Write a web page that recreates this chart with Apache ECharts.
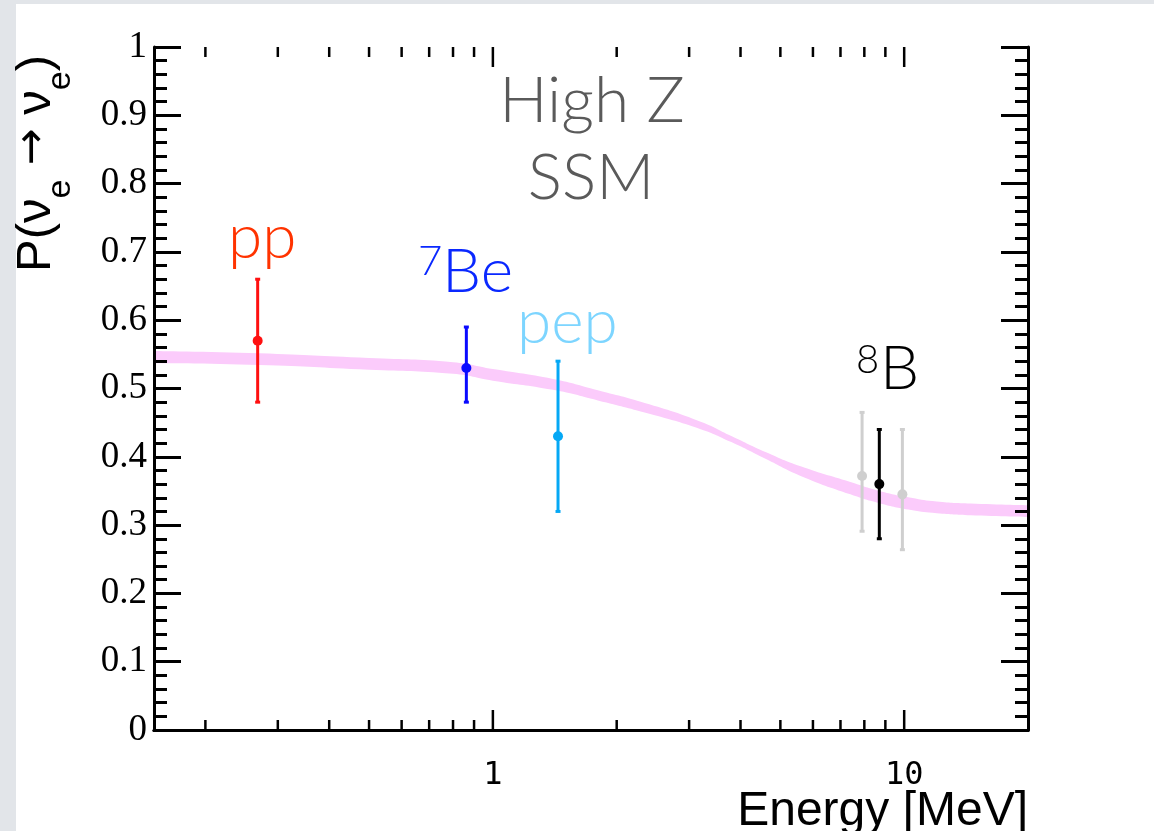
<!DOCTYPE html>
<html><head><meta charset="utf-8">
<script src="https://cdn.jsdelivr.net/npm/echarts@6/dist/echarts.min.js"></script>
<style>html,body{margin:0;padding:0;background:#e2e5e9;}#c{width:1154px;height:831px;}</style>
</head><body><div id="c"></div>
<script>
// ---- data ----
const bandEnergy = [0.15, 0.27, 0.5, 0.8, 1.0, 1.4, 1.8, 2.4, 3.2, 3.8, 4.6, 5.6, 7.4, 8.7, 10.4, 12, 14.5, 20];
const bandLower  = [0.537, 0.5345, 0.5275, 0.5215, 0.5115, 0.498, 0.4825, 0.463, 0.4405, 0.4215, 0.397, 0.372, 0.345, 0.332, 0.322, 0.3175, 0.3145, 0.312];
const bandUpper  = [0.555, 0.5515, 0.5445, 0.5385, 0.5285, 0.514, 0.4975, 0.477, 0.4515, 0.4305, 0.407, 0.386, 0.363, 0.350, 0.340, 0.3345, 0.3315, 0.329];

const pointNames  = ['pp', '7Be', 'pep', '8B (alt 1)', '8B (alt 2)', '8B'];
const pointEnergy = [0.268, 0.862, 1.44, 7.9, 9.9, 8.7];
const pointValue  = [0.57, 0.53, 0.43, 0.372, 0.345, 0.36];
const pointLow    = [0.48, 0.48, 0.32, 0.291, 0.264, 0.28];
const pointHigh   = [0.66, 0.59, 0.54, 0.465, 0.44, 0.44];
const pointColors = ['#ff1010', '#0a0aff', '#05a8f5', '#cfcfcf', '#cfcfcf', '#000000'];

const xMajorTicks = [1, 10];
const xTickLabels = ['1', '10'];
const xMinorTicks = [0.2, 0.3, 0.4, 0.5, 0.6, 0.7, 0.8, 0.9, 2, 3, 4, 5, 6, 7, 8, 9];
const xRange = [0.15, 20];
const yRange = [0, 1];

// ---- chart ----
const chart = echarts.init(document.getElementById('c'), null, {renderer: 'canvas'});

function tickSeries(values, len) {
  return {
    type: 'custom', silent: true, z: 5, clip: false,
    data: values.map(v => [v, yRange[0]]),
    renderItem: (params, api) => {
      const b = api.coord([api.value(0), yRange[0]]);
      const t = api.coord([api.value(0), yRange[1]]);
      return {type: 'group', children: [
        {type: 'line', shape: {x1: b[0], y1: b[1], x2: b[0], y2: b[1] - len}, style: {stroke: '#000', lineWidth: 2.5}},
        {type: 'line', shape: {x1: t[0], y1: t[1], x2: t[0], y2: t[1] + len}, style: {stroke: '#000', lineWidth: 2.5}}
      ]};
    }
  };
}

const yAxisCommon = {
  type: 'value', min: yRange[0], max: yRange[1], interval: 0.1, z: 5,
  axisLine: {show: true, lineStyle: {color: '#000', width: 3}},
  axisTick: {show: true, inside: true, length: 27, lineStyle: {color: '#000', width: 3}},
  minorTick: {show: true, splitNumber: 5, length: 13, lineStyle: {color: '#000', width: 3}},
  splitLine: {show: false}
};

const txt = (x, y, text, size, fill, align, extra) => ({
  type: 'text', x, y, z: 10, silent: true,
  style: Object.assign({text, fontFamily: 'Lato', fontWeight: 300, fontSize: size, fill,
    align, verticalAlign: 'middle', textAlign: align, textVerticalAlign: 'middle'}, extra || {})
});

const option = {
  backgroundColor: '#e2e5e9',
  animation: false,
  grid: {left: 154, right: 126, top: 47, bottom: 101, containLabel: false, outerBoundsMode: 'none'},
  xAxis: [
    {type: 'log', logBase: 10, min: xRange[0], max: xRange[1], position: 'bottom', z: 5,
     axisLine: {show: true, lineStyle: {color: '#000', width: 3}},
     axisTick: {show: false}, splitLine: {show: false},
     axisLabel: {show: true, showMinLabel: false, showMaxLabel: false, margin: 30,
       fontFamily: 'DejaVu Sans Mono', fontSize: 32, color: '#000',
       formatter: v => { const i = xMajorTicks.findIndex(m => Math.abs(v - m) < 1e-6 * m); return i >= 0 ? xTickLabels[i] : ''; }}},
    {type: 'log', logBase: 10, min: xRange[0], max: xRange[1], position: 'top', z: 5,
     axisLine: {show: true, lineStyle: {color: '#000', width: 3}},
     axisTick: {show: false}, axisLabel: {show: false}, splitLine: {show: false}}
  ],
  yAxis: [
    Object.assign({}, yAxisCommon, {position: 'left',
      axisLabel: {show: true, margin: 7, fontFamily: 'Liberation Serif', fontSize: 37, color: '#000'}}),
    Object.assign({}, yAxisCommon, {position: 'right', axisLabel: {show: false}})
  ],
  graphic: [
    {type: 'rect', z: -100, silent: true, shape: {x: 16, y: 4, width: 1138, height: 827}, style: {fill: '#ffffff'}},
    {type: 'text', x: 12, y: 272, rotation: Math.PI / 2, z: 10, silent: true,
     style: {
       text: '{m|P(ν}{s|e}{a| → }{m|ν}{s|e}{m|)}',
       align: 'left', verticalAlign: 'top', textAlign: 'left', textVerticalAlign: 'top',
       fill: '#000',
       rich: {
         m: {fontFamily: 'Liberation Sans', fontSize: 49, lineHeight: 56, verticalAlign: 'top', fill: '#000'},
         a: {fontFamily: 'DejaVu Sans', fontSize: 44, lineHeight: 56, verticalAlign: 'top', fill: '#000'},
         s: {fontFamily: 'Liberation Sans', fontSize: 34, lineHeight: 66, verticalAlign: 'bottom', fill: '#000'}
       }
     }},
    {type: 'text', x: 1028, y: 812, z: 10, silent: true,
     style: {text: 'Energy [MeV]', fontFamily: 'Liberation Sans', fontSize: 48, fill: '#000',
       align: 'right', verticalAlign: 'middle', textAlign: 'right', textVerticalAlign: 'middle'}},
    txt(592, 101, 'High Z', 64, '#5a5a5a', 'center'),
    txt(591, 178, 'SSM', 64, '#5a5a5a', 'center'),
    txt(228, 238, 'pp', 62, '#ff3300', 'left'),
    txt(418, 261, '7', 42, '#0a28ff', 'left'),
    txt(442, 272, 'Be', 62, '#0a28ff', 'left'),
    txt(517, 323, 'pep', 62, '#7dd5ff', 'left'),
    txt(856, 360, '8', 40, '#000000', 'left'),
    txt(880, 369, 'B', 62, '#000000', 'left')
  ],
  series: [
    // band drawn as two stacked smooth lines; columns are [probability, energy]
    {name: 'band-lower', type: 'line', stack: 'band', smooth: true, symbol: 'none', silent: true, z: 1,
     encode: {x: 1, y: 0}, lineStyle: {width: 0, opacity: 0},
     data: bandEnergy.map((e, i) => [bandLower[i], e])},
    {name: 'MSW-LMA band', type: 'line', stack: 'band', smooth: true, symbol: 'none', silent: true, z: 1,
     encode: {x: 1, y: 0}, lineStyle: {width: 0, opacity: 0},
     areaStyle: {color: '#fbcbfb', opacity: 1},
     data: bandEnergy.map((e, i) => [+(bandUpper[i] - bandLower[i]).toFixed(4), e])},
    tickSeries(xMinorTicks, 10),
    tickSeries(xMajorTicks, 20),
    {name: 'measurements', type: 'custom', z: 6,
     data: pointEnergy.map((e, i) => [e, pointValue[i], pointLow[i], pointHigh[i]]),
     renderItem: (params, api) => {
       const c = pointColors[params.dataIndex];
       const p = api.coord([api.value(0), api.value(1)]);
       const lo = api.coord([api.value(0), api.value(2)]);
       const hi = api.coord([api.value(0), api.value(3)]);
       const cap = 2.5;
       return {type: 'group', children: [
         {type: 'line', shape: {x1: p[0], y1: hi[1], x2: p[0], y2: lo[1]}, style: {stroke: c, lineWidth: 3}},
         {type: 'line', shape: {x1: p[0] - cap, y1: hi[1], x2: p[0] + cap, y2: hi[1]}, style: {stroke: c, lineWidth: 3}},
         {type: 'line', shape: {x1: p[0] - cap, y1: lo[1], x2: p[0] + cap, y2: lo[1]}, style: {stroke: c, lineWidth: 3}},
         {type: 'circle', shape: {cx: p[0], cy: p[1], r: 5}, style: {fill: c}}
       ]};
     }}
  ]
};
chart.setOption(option);
</script>
</body></html>
